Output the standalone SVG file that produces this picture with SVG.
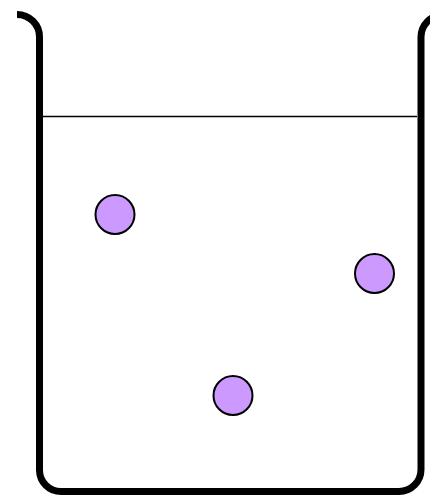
<svg xmlns="http://www.w3.org/2000/svg" width="430" height="497" viewBox="0 0 430 497">
<style>
.wall{fill:none;stroke:#000;stroke-width:7;stroke-linejoin:round}
.p{fill:#cc99ff;stroke:#000;stroke-width:2}
</style>
<rect width="430" height="497" fill="#fff"/>
<g id="beaker">
<path class="wall" d="M17,14.5 A22.5,22.5 0 0 1 39.5,37 L39.5,470 A21.5,21.5 0 0 0 61,491.5 L399,491.5 A22,22 0 0 0 421,469.5 L421,37 A22,22 0 0 1 443,15"/>
</g>
<g id="surface">
<line x1="43" y1="116.5" x2="417" y2="116.5" stroke="#000" stroke-width="1.5"/>
</g>
<g id="particle1"><circle class="p" cx="115" cy="214.5" r="19.5"/></g>
<g id="particle2"><circle class="p" cx="374.5" cy="273.5" r="19.5"/></g>
<g id="particle3"><circle class="p" cx="233" cy="395.5" r="19.5"/></g>
</svg>
